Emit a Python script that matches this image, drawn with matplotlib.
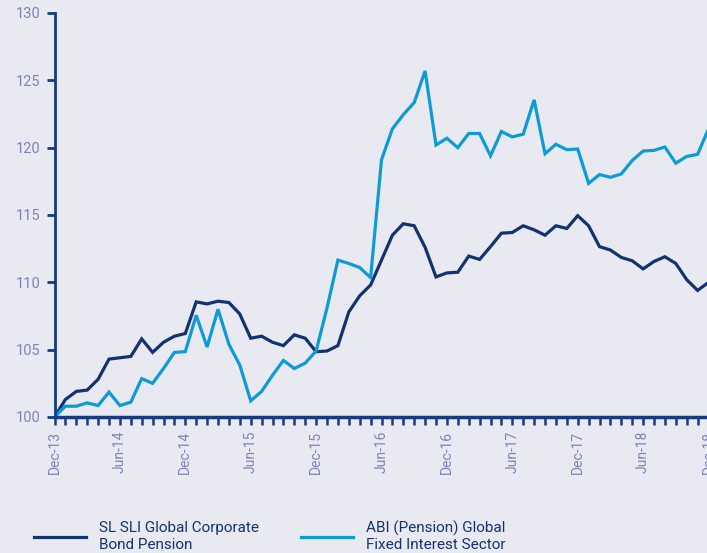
import matplotlib
matplotlib.use("Agg")
import matplotlib.pyplot as plt
from matplotlib import font_manager
from matplotlib.ticker import MultipleLocator, FixedLocator

# month index 0 = Dec-13 ... 60 = Dec-18
tick_pos = [0, 6, 12, 18, 24, 30, 36, 42, 48, 54, 60]
tick_labels = ['Dec-13', 'Jun-14', 'Dec-14', 'Jun-15', 'Dec-15', 'Jun-16',
               'Dec-16', 'Jun-17', 'Dec-17', 'Jun-18', 'Dec-18']

sl_fund = [100.0, 101.3, 101.9, 102.0, 102.8, 104.3, 104.4, 104.5, 105.8, 104.8,
           105.55, 106.0, 106.2, 108.55, 108.4, 108.6, 108.5, 107.65, 105.85, 106.0,
           105.55, 105.3, 106.1, 105.85, 104.85, 104.9, 105.3, 107.8, 109.0, 109.8,
           111.65, 113.5, 114.35, 114.2, 112.6, 110.4, 110.7, 110.75, 111.95, 111.7,
           112.65, 113.65, 113.7, 114.2, 113.9, 113.5, 114.2, 114.0, 114.95, 114.2,
           112.65, 112.4, 111.85, 111.6, 111.0, 111.55, 111.9, 111.4, 110.2, 109.4,
           110.0]
abi_sector = [100.0, 100.8, 100.8, 101.05, 100.85, 101.85, 100.85, 101.1, 102.85, 102.5,
              103.6, 104.8, 104.85, 107.55, 105.2, 108.0, 105.4, 103.85, 101.2, 101.9,
              103.1, 104.2, 103.6, 104.0, 104.9, 108.1, 111.65, 111.4, 111.1, 110.35,
              119.1, 121.4, 122.45, 123.35, 125.7, 120.2, 120.7, 120.0, 121.05, 121.05,
              119.4, 121.2, 120.8, 121.0, 123.55, 119.55, 120.25, 119.85, 119.9, 117.35,
              118.0, 117.8, 118.05, 119.05, 119.75, 119.8, 120.05, 118.85, 119.35, 119.5,
              121.4]
series_names = ['SL SLI Global Corporate\nBond Pension',
                'ABI (Pension) Global\nFixed Interest Sector']

installed = {f.name for f in font_manager.fontManager.ttflist}
if 'Liberation Sans Narrow' in installed:
    plt.rcParams['font.family'] = ['Liberation Sans Narrow', 'DejaVu Sans']
    legend_size = 12.5
else:
    plt.rcParams['font.family'] = ['Roboto', 'DejaVu Sans']
    legend_size = 11

bg = '#e9e9f2'
navy = '#12336f'
light = '#0d9bd6'
axis_col = '#163b80'
label_col = '#7d84b4'

W, H = 707, 553
fig = plt.figure(figsize=(W / 100, H / 100), dpi=100, facecolor=bg)
x0, step = 54.5, 10.9
xmax = 61
ax = fig.add_axes([x0 / W, 1 - 417 / H, xmax * step / W, (417 - 13) / H])
ax.set_facecolor(bg)

months = list(range(len(sl_fund)))
ax.plot(months, sl_fund, color=navy, lw=2.3, label=series_names[0], solid_joinstyle='miter')
ax.plot(months, abi_sector, color=light, lw=2.3, label=series_names[1], solid_joinstyle='miter')

ax.set_xlim(0, xmax)
ax.set_ylim(100, 130)
ax.yaxis.set_major_locator(MultipleLocator(5))
ax.xaxis.set_major_locator(FixedLocator(tick_pos))
ax.set_xticklabels(tick_labels, rotation=90)
ax.xaxis.set_minor_locator(MultipleLocator(1))

for s in ['top', 'right']:
    ax.spines[s].set_visible(False)
ax.spines['left'].set_color(axis_col)
ax.spines['left'].set_linewidth(2)
ax.spines['bottom'].set_color(axis_col)
ax.spines['bottom'].set_linewidth(2.5)

ax.tick_params(axis='y', colors=axis_col, labelcolor=label_col, length=6, width=2,
               labelsize=10.5, pad=4)
ax.tick_params(axis='x', which='both', colors=axis_col, labelcolor=label_col,
               length=6, width=1.8, labelsize=10, pad=4)

ax.legend(loc='upper left', bbox_to_anchor=(20 / W, 1 - 507 / H),
          bbox_transform=fig.transFigure, ncol=2, frameon=False,
          fontsize=legend_size, labelcolor=navy, handlelength=3.4,
          handletextpad=0.85, columnspacing=2.8, labelspacing=0.15)

fig.savefig('out.png', dpi=100, facecolor=bg)
